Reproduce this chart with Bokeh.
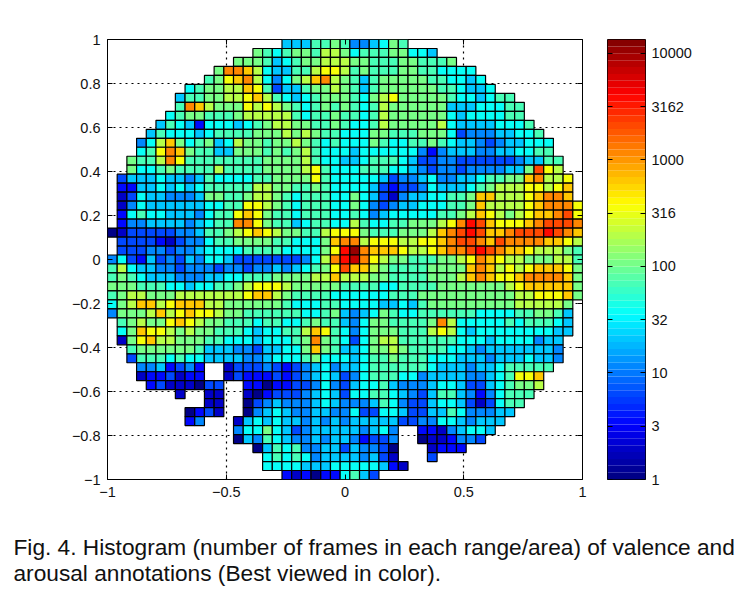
from bokeh.plotting import figure
from bokeh.layouts import column, row
from bokeh.models import (LogColorMapper, ColumnDataSource, LinearAxis, LogAxis, FixedTicker,
                          Label, Range1d)
from bokeh.embed import file_html
from bokeh.resources import INLINE

# Histogram cells, row by row from the top. Each entry: first occupied bin, then one code per bin.
# Code = log10(count) in steps of 0.25 (0-9, a-g); "." = empty bin.
hist_rows = [
 (18, "5557787445687"),
 (15, "8767887998 677788665"),
 (13, "888756788999 88777887778"),
 (11, "8ccb9655779aa9 7877788776666"),
 (10, "78abc964689bc98 75788888776656"),
 (8, "678899ba735578898 757888888776556"),
 (7, "5778899ab976567888 7689a888887665677"),
 (7, "7cb9888a9a98767878 767988888855566677"),
 (6, "6788777899999767787 767988888865666677"),
 (5, "57652666567899887787 6679888889655556667"),
 (4, "576665677778889898776 6688777888 6344455667"),
 (3, "469b867856988788987676 668766778765543455666"),
 (3, "67acb877 5588 8787 8976 66 5666666 424 555 44 55 66 77"),
 (2, "8779ca 77777777 8888 97665 5677765 3344 333333 4 55 77"),
 (2, "86678 7777 9 7777 8888 9a766 677766 5 4 3 44 3 4444 55 8da9"),
 (1, "3555655457 6666 77 8888 a766 666534456445567788 bc99a"),
 (1, "225565656 77777 9988 7787 66 665323346555678 999 aa9ab"),
 (1, "136554445 88778 998 7677766 8653145566778 bb 999 abccb"),
 (1, "146555555 6677 aa98 7677766 8643455666778 b9999 abccca"),
 (1, "267665554 677 aba 877 6777 66 764566666 778 9ba 989 abbcda"),
 (1, "244555545 677 cca 877 5677 66 976677888 9ace dbaaa bcdddc"),
 (0, "0133333 445 778 9aba 98877 9aa a87778889 bcded bb cddd edcb"),
 (1, "333321344 677 8888 77 666 8bc c9aaa99aab cddcbd ccccbba9"),
 (1, "333443445 6666 7777 6666 8ae gcbbb a99ab ccded cbba9 998 7"),
 (0, "4632534354 665 3333333 469ce fca988777889 acba99 888997"),
 (0, "7965544344 43443445 45678ad bb98 7777 8888 bcb9 a9abbba8"),
 (0, "7876555444 5566777 8888 99b9 9988 7777 8889 bcbaab ccccb8"),
 (0, "888777 66566 778 9aaa9 888887 777667777 8888888 9abbbbb 8"),
 (0, "7899888 9999999 abb98 7777 66 6666777 8888888888 99aaab8"),
 (0, "689bb9abbb 99 888888 7666 776 6665565 7 888888888 99999 8"),
 (0, "4888 9b9aba a988 777777 66785 4568766 777777 6666 778875"),
 (1, "78988aba988 777 677 66 78775 46887777 8c9 66666 7677765"),
 (1, "68baa98988 777 65667 79ba76 46888777 9a9 65 66666666 55"),
 (1, "18ab99888 77 666 5 666 78c876 36899 777777 666 5 6666 455"),
 (2, "7888888 7 555 44 3 55 66 8b875 56889 8 7777 66 5 4 5555555 4"),
 (2, "377767 66 5555 44 5 666 78 666 56778777 666 555 4 555 6 554"),
 (3, "4452342 .. 1333432345645 56777777 6555 455 6 77777"),
 (3, "1223122 .. 1322232345653 4677766 4 5555 44 56 7 aab"),
 (4, "23111033 .. 22022334643 56675444566533 567889"),
 (7, "1..11..10233345653 6677654357754246777"),
 (10, "11.. 03454445654 445764335 665 3136 77"),
 (8, "0231.. 04565445544 63366533 5576 44455"),
 (8, "24... 156565545454 55555 33 44 66 5 4 555"),
 (13, "466865345555 54564..221 45665"),
 (13, "054765445455 42334..0112443"),
 (15, "0576744553 54430...1222"),
 (16, "676764555 54531...3"),
 (16, "666655566 666521"),
 (18, "2120226753"),
]
n_bins = 49
code_digits = "0123456789abcdefg"
code_step = 0.25
code_base = 0.06
log_top = 4.13
x_ticks = [-1, -0.5, 0, 0.5, 1]
x_labels = ["\u22121", "\u22120.5", "0", "0.5", "1"]
y_ticks = [-1, -0.8, -0.6, -0.4, -0.2, 0, 0.2, 0.4, 0.6, 0.8, 1]
y_labels = ["\u22121", "\u22120.8", "\u22120.6", "\u22120.4", "\u22120.2", "0", "0.2", "0.4", "0.6", "0.8", "1"]
cb_ticks = [1, 3.162, 10, 31.62, 100, 316.2, 1000, 3162, 10000]
cb_labels = ["1", "3", "10", "32", "100", "316", "1000", "3162", "10000"]
caption = ["Fig. 4. Histogram (number of frames in each range/area) of valence and",
           "arousal annotations (Best viewed in color)."]
FONT = "Liberation Sans"


def jet(t):
    def c(v):
        return max(0.0, min(1.0, v))
    return "#%02x%02x%02x" % (round(255 * c(1.5 - abs(4 * t - 3))),
                               round(255 * c(1.5 - abs(4 * t - 2))),
                               round(255 * c(1.5 - abs(4 * t - 1))))


palette = [jet((i + 0.5) / 64) for i in range(64)]
mapper = LogColorMapper(palette=palette, low=1, high=10 ** log_top)

w = 2 / n_bins
L, R, T, B, V = [], [], [], [], []
for r, (start, codes) in enumerate(hist_rows):
    for k, ch in enumerate(codes.replace(" ", "")):
        if ch == ".":
            continue
        c = start + k
        L.append(-1 + c * w); R.append(-1 + (c + 1) * w)
        T.append(1 - r * w); B.append(1 - (r + 1) * w)
        V.append(10 ** (code_base + code_digits.index(ch) * code_step))
src = ColumnDataSource(dict(left=L, right=R, top=T, bottom=B, v=V))


def style_axis(ax, ticks, labels=None, show=True):
    ax.ticker = FixedTicker(ticks=ticks)
    ax.major_tick_in = 5
    ax.major_tick_out = 0
    ax.minor_tick_line_color = None
    ax.axis_line_color = None
    if show and labels:
        ax.major_label_overrides = dict(zip(ticks, labels))
        ax.major_label_text_font = FONT
        ax.major_label_text_font_size = "14.5px"
        ax.major_label_text_color = "#111111"
    else:
        ax.major_label_text_font_size = "0px"
        ax.major_label_text_color = None
        ax.major_label_standoff = 0


p = figure(width=587, height=509, output_backend="svg", toolbar_location=None,
           x_range=Range1d(-1, 1), y_range=Range1d(-1, 1),
           min_border_left=107, min_border_right=5, min_border_top=39, min_border_bottom=30,
           frame_width=475, frame_height=440)
p.background_fill_color = "white"
p.outline_line_color = "black"
p.quad(left="left", right="right", top="top", bottom="bottom", source=src,
       fill_color={"field": "v", "transform": mapper}, line_color="black", line_width=1.2)
style_axis(p.xaxis[0], x_ticks, x_labels)
style_axis(p.yaxis[0], y_ticks, y_labels)
p.xaxis[0].major_label_standoff = 7
p.yaxis[0].major_label_standoff = 7
top_ax = LinearAxis(); style_axis(top_ax, x_ticks, show=False); p.add_layout(top_ax, "above")
right_ax = LinearAxis(); style_axis(right_ax, y_ticks, show=False); p.add_layout(right_ax, "right")
p.xgrid.ticker = FixedTicker(ticks=x_ticks)
p.ygrid.ticker = FixedTicker(ticks=y_ticks)
for g in (p.xgrid[0], p.ygrid[0]):
    g.grid_line_color = "black"
    g.grid_line_dash = "2 4"
    g.grid_line_width = 1.2

cb = figure(width=118, height=509, output_backend="svg", toolbar_location=None,
            y_axis_type="log", x_range=Range1d(0, 1), y_range=Range1d(1, 10 ** log_top),
            y_axis_location="right",
            min_border_left=20, min_border_right=60, min_border_top=39, min_border_bottom=30,
            frame_width=38, frame_height=440)
edges = [10 ** (log_top * i / 64) for i in range(65)]
cb.quad(left=0, right=1, bottom=edges[:-1], top=edges[1:], fill_color=palette, line_color=None)
cb.outline_line_color = "black"
cb.grid.visible = False
cb.xaxis.visible = False
style_axis(cb.yaxis[0], cb_ticks, cb_labels)
cb.yaxis[0].major_label_standoff = 6
left_cb = LogAxis(); style_axis(left_cb, cb_ticks, show=False); cb.add_layout(left_cb, "left")

cap = figure(width=740, height=84, output_backend="svg", toolbar_location=None,
             x_range=Range1d(0, 740), y_range=Range1d(0, 84),
             min_border=0, min_border_left=0, min_border_right=0, min_border_top=0, min_border_bottom=0)
cap.outline_line_color = None
cap.xaxis.visible = False
cap.yaxis.visible = False
cap.grid.visible = False
cap.add_layout(Label(x=13, y=34, text=caption[0], text_font=FONT, text_font_size="22.7px", text_color="#111111"))
cap.add_layout(Label(x=13, y=8, text=caption[1], text_font=FONT, text_font_size="22.7px", text_color="#111111"))

page = column(row(p, cb, spacing=0), cap, spacing=0)
open("out.html", "w").write(file_html(page, INLINE))
